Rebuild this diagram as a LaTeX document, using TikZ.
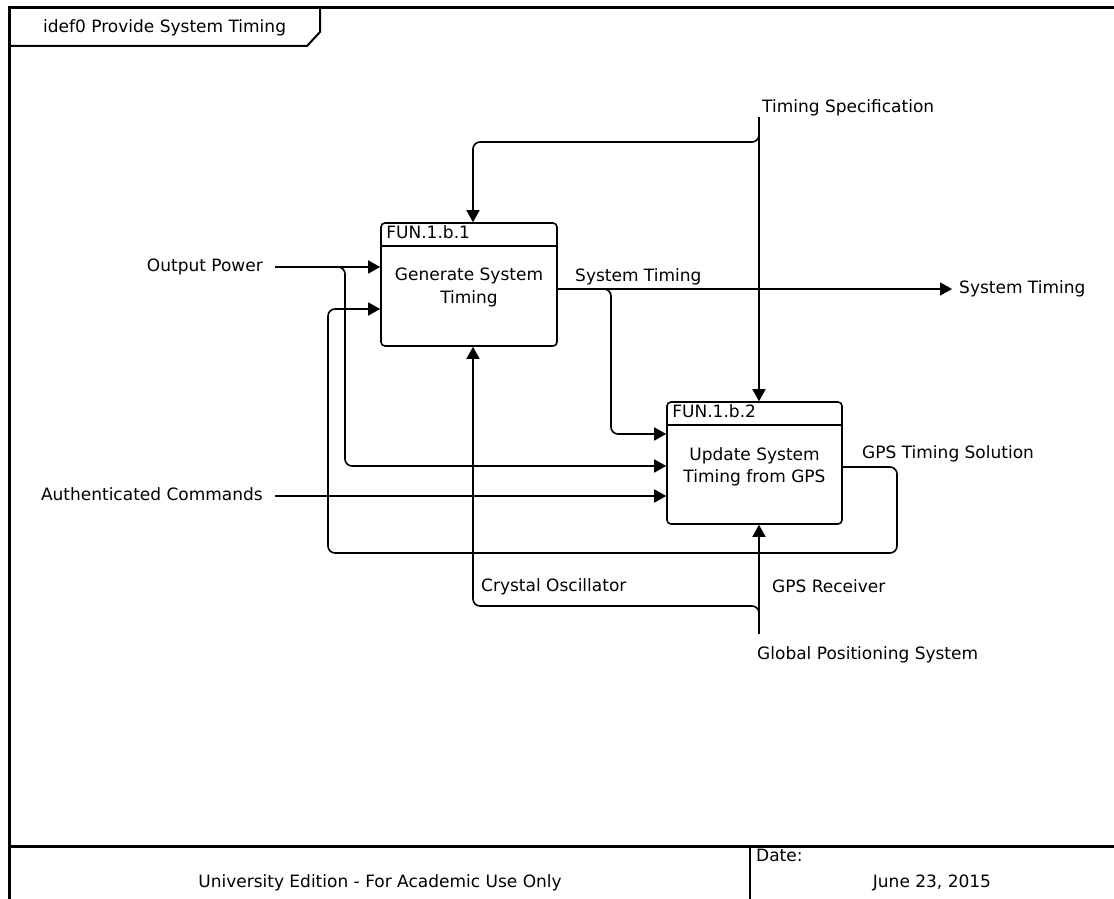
\documentclass[tikz,border=0pt]{standalone}
\usepackage{fontspec}
\setmainfont{DejaVu Sans}
\usetikzlibrary{arrows.meta,calc}
\tikzset{
  func/.style = {draw, line width=1.6pt, rounded corners=4pt,
                 inner sep=0pt, minimum width=#1, minimum height=123pt},
  func/.default = 176pt,
  flow/.style = {line width=1.6pt, rounded corners=7pt},
  arr/.style  = {flow, -{Triangle[length=12pt,width=13pt]}},
  lbl/.style  = {inner sep=0pt, text height=12pt, text depth=3.5pt}
}

\begin{document}
\begin{tikzpicture}[x=1pt, y=-1pt, font=\fontsize{17}{23}\selectfont]
	\def \hd{24}   % header height of a box
	\def \gap{12}  % gap between a label and its line

	\useasboundingbox (0,0) rectangle (1114,899);

	% Frame
	\draw[line width=3pt] (9,899) -- (9,8) -- (1114,8);
	\draw[line width=3pt] (9,846) -- (1114,846);
	\draw[line width=2pt] (750,846) -- (750,899);
	\draw[line width=2pt] (9,46) -- (307,46) -- (320,32) -- (320,8);
	\node[lbl, anchor=west] (title) at (43,28) {idef0 Provide System Timing};
	\node[lbl] (edition) at (380,883) {University Edition - For Academic Use Only};
	\node[lbl, anchor=west] (datelbl) at (756,857) {Date:};
	\node[lbl] (date) at (932,883) {June 23, 2015};

	% Boxes
	\node[func] (fun1) at (469,284.5) {};
	\node[func=175pt, minimum height=122pt] (fun2) at (754.5,463) {};
	\draw[line width=1.6pt] ($(fun1.north west)+(0,\hd)$) -- ($(fun1.north east)+(0,\hd)$);
	\draw[line width=1.6pt] ($(fun2.north west)+(0,\hd)$) -- ($(fun2.north east)+(0,\hd)$);
	\node[lbl, anchor=west] (id1) at ($(fun1.north west)+(6,12.5)$) {FUN.1.b.1};
	\node[lbl, anchor=west] (id2) at ($(fun2.north west)+(6,12.5)$) {FUN.1.b.2};
	\node[lbl, align=center] (txt1) at (469,299) {Generate System\\Timing};
	\node[lbl, align=center, font=\fontsize{17}{22}\selectfont] (txt2) at (754.5,478) {Update System\\Timing from GPS};

	% Labels
	\node[lbl, anchor=east] (op) at (263,267) {Output Power};
	\node[lbl, anchor=east] (ac) at (263,496) {Authenticated Commands};
	\node[lbl, anchor=west] (ts) at (762,108) {Timing Specification};
	\node[lbl, anchor=west] (stR) at (959,289) {System Timing};
	\node[lbl, anchor=west] (stL) at (575,277) {System Timing};
	\node[lbl, anchor=west] (gs) at (862,454) {GPS Timing Solution};
	\node[lbl, anchor=west] (co) at (481,587) {Crystal Oscillator};
	\node[lbl, anchor=west] (gr) at (772,588) {GPS Receiver};
	\node[lbl, anchor=west] (gp) at (757,655) {Global Positioning System};

	% Junctions
	\coordinate (opj) at (337,267);
	\coordinate (opk) at (345,466);
	\coordinate (stj) at (600,289);
	\coordinate (stk) at (611,434);
	\coordinate (tsT) at (759,117);
	\coordinate (tsj) at (759,128);
	\coordinate (tsk) at (473,142);
	\coordinate (gsA) at (897,553);
	\coordinate (gsB) at (328,309);
	\coordinate (gpT) at (759,634);
	\coordinate (coj) at (759,620);
	\coordinate (cok) at (473,606);

	% Inputs
	\draw[arr] ([xshift=\gap]op.east) -- (op.east -| fun1.west);
	\draw[arr] (opj) -| (opk) -- (opk -| fun2.west);
	\draw[arr] ([xshift=\gap]ac.east) -- (ac.east -| fun2.west);

	% Outputs
	\draw[arr] (fun1.east |- stR.west) -- ([xshift=-7]stR.west);
	\draw[arr] (stj) -| (stk) -- (stk -| fun2.west);
	\draw[arr] (fun2.east |- 0,467) -| (gsA) -| (gsB) -- (gsB -| fun1.west);

	% Controls
	\draw[arr] (tsT) -- (tsT |- fun2.north);
	\draw[arr] (tsj) |- (tsk) -- (tsk |- fun1.north);

	% Mechanisms
	\draw[arr] (gpT) -- (gpT |- fun2.south);
	\draw[arr] (coj) |- (cok) -- (cok |- fun1.south);
\end{tikzpicture}
\end{document}
